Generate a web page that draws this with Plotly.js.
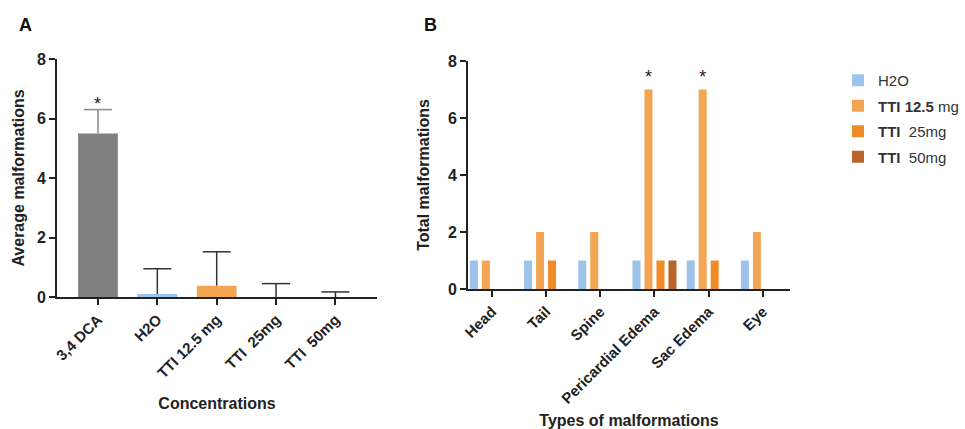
<!DOCTYPE html>
<html><head><meta charset="utf-8">
<script src="https://cdn.plot.ly/plotly-3.0.1.min.js"></script>
<style>html,body{margin:0;padding:0;background:#fff}#c{width:965px;height:429px}</style>
</head><body><div id="c"></div>
<script>
// Panel A
const catsA = ['3,4 DCA', 'H2O', 'TTI 12.5 mg', 'TTI  25mg', 'TTI  50mg'];
const meanA = [5.5, 0.1, 0.38, 0, 0];
const errA = [0.8, 0.85, 1.14, 0.45, 0.17];
const sigA = ['*', '', '', '', ''];
const colorsA = ['#808080', '#9cc3ea', '#f4a553', '#f08b2a', '#b8642a'];
const errColorsA = ['#8a8a8a', '#333', '#333', '#333', '#333'];

// Panel B
const catsB = ['Head', 'Tail', 'Spine', 'Pericardial Edema', 'Sac Edema', 'Eye'];
const seriesNames = ['H2O', '<b>TTI 12.5</b> mg', '<b>TTI</b>  25mg', '<b>TTI</b>  50mg'];
const h2o = [1, 1, 1, 1, 1, 1];
const tti125 = [1, 2, 2, 7, 7, 2];
const tti25 = [0, 1, 0, 1, 1, 0];
const tti50 = [0, 0, 0, 1, 0, 0];
const sigB = ['', '', '', '*', '*', ''];
const colorsB = ['#9cc3ea', '#f4a553', '#f08b2a', '#b8642a'];

const FONT = 'Liberation Sans, Arial, sans-serif';
const dark = '#222';

const traces = [];
// A: DCA (gray error bar) and others (dark error bars), sharing one offset group
const groupsA = [[0, 1], [1, 5]];
groupsA.forEach(([s, e]) => {
  traces.push({
    type: 'bar', x: catsA.slice(s, e), y: meanA.slice(s, e), width: 0.67,
    marker: {color: colorsA.slice(s, e), line: {width: 0}},
    error_y: {type: 'data', array: errA.slice(s, e), symmetric: false, arrayminus: errA.slice(s, e).map(() => 0),
      color: errColorsA[s], thickness: 1.5, width: 0},
    xaxis: 'x', yaxis: 'y', offsetgroup: 'A', showlegend: false, hoverinfo: 'skip'
  });
});
// error bar top caps
traces.push({
  type: 'scatter', mode: 'markers', x: catsA, y: meanA.map((m, i) => m + errA[i]),
  marker: {symbol: 'line-ew-open', size: 20, color: errColorsA, line: {width: 1.5, color: errColorsA}},
  xaxis: 'x', yaxis: 'y', showlegend: false, hoverinfo: 'skip', cliponaxis: false
});
// B
const valsB = [h2o, tti125, tti25, tti50];
valsB.forEach((v, i) => {
  traces.push({
    type: 'bar', x: catsB, y: v, name: seriesNames[i], legendgroup: 'g' + i,
    marker: {color: colorsB[i], line: {width: 0}},
    text: i === 1 ? sigB : undefined,
    textposition: i === 1 ? 'outside' : undefined,
    textfont: {family: FONT, size: 18, color: dark},
    cliponaxis: false,
    xaxis: 'x2', yaxis: 'y2', hoverinfo: 'skip'
  });
});

const annotations = [];
catsA.forEach((c, i) => {
  if (sigA[i]) annotations.push({
    x: c, y: meanA[i] + errA[i], xref: 'x', yref: 'y', text: sigA[i], showarrow: false,
    yanchor: 'bottom', yshift: -6, font: {family: FONT, size: 18, color: dark}
  });
});
const panelLabels = [['A', 25, 25], ['B', 430, 25]];
panelLabels.forEach(([t, px, py]) => annotations.push({
  x: px / 965, y: 1 - py / 429, xref: 'paper', yref: 'paper', xanchor: 'center', yanchor: 'middle',
  text: '<b>' + t + '</b>', showarrow: false, font: {family: FONT, size: 18, color: '#111'}
}));

const tickFont = {family: FONT, size: 16, color: dark, weight: 'bold'};
const catFont = {family: FONT, size: 15, color: dark, weight: 'bold'};
const titleFont = {family: FONT, size: 16, color: dark, weight: 'bold'};
const axisCommon = {
  showline: true, linecolor: dark, linewidth: 2, ticks: 'outside', ticklen: 6, tickwidth: 2, tickcolor: dark,
  showgrid: false, zeroline: false
};

const layout = {
  width: 965, height: 429, margin: {l: 0, r: 0, t: 0, b: 0},
  paper_bgcolor: '#fff', plot_bgcolor: '#fff',
  font: {family: FONT, color: dark},
  barmode: 'group', bargap: 0.115, bargroupgap: 0.33,
  showlegend: true,
  legend: {x: 838 / 965, y: 1 - 64 / 429, xanchor: 'left', yanchor: 'top', traceorder: 'grouped', tracegroupgap: 3,
    font: {family: FONT, size: 15, color: '#333'}, bgcolor: 'rgba(0,0,0,0)'},
  xaxis: Object.assign({}, axisCommon, {domain: [57 / 965, 377 / 965], anchor: 'y', type: 'category',
    range: [-0.69, 4.7], tickangle: -45, tickfont: catFont,
    title: {text: 'Concentrations', font: titleFont, standoff: 18}}),
  yaxis: Object.assign({}, axisCommon, {domain: [1 - 297 / 429, 1 - 59 / 429], anchor: 'x', range: [0, 8], tickvals: [0, 2, 4, 6, 8],
    tickfont: tickFont,
    title: {text: 'Average malformations', font: titleFont, standoff: 8}}),
  xaxis2: Object.assign({}, axisCommon, {domain: [468 / 965, 790 / 965], anchor: 'y2', type: 'category',
    range: [-0.44, 5.5], tickangle: -45, tickfont: catFont,
    title: {text: 'Types of malformations', font: titleFont, standoff: 9}}),
  yaxis2: Object.assign({}, axisCommon, {domain: [1 - 289 / 429, 1 - 61 / 429], anchor: 'x2', range: [0, 8], tickvals: [0, 2, 4, 6, 8],
    tickfont: tickFont,
    title: {text: 'Total malformations', font: titleFont, standoff: 14}}),
  annotations: annotations
};
Plotly.newPlot('c', traces, layout, {displayModeBar: false, staticPlot: true});
</script></body></html>
